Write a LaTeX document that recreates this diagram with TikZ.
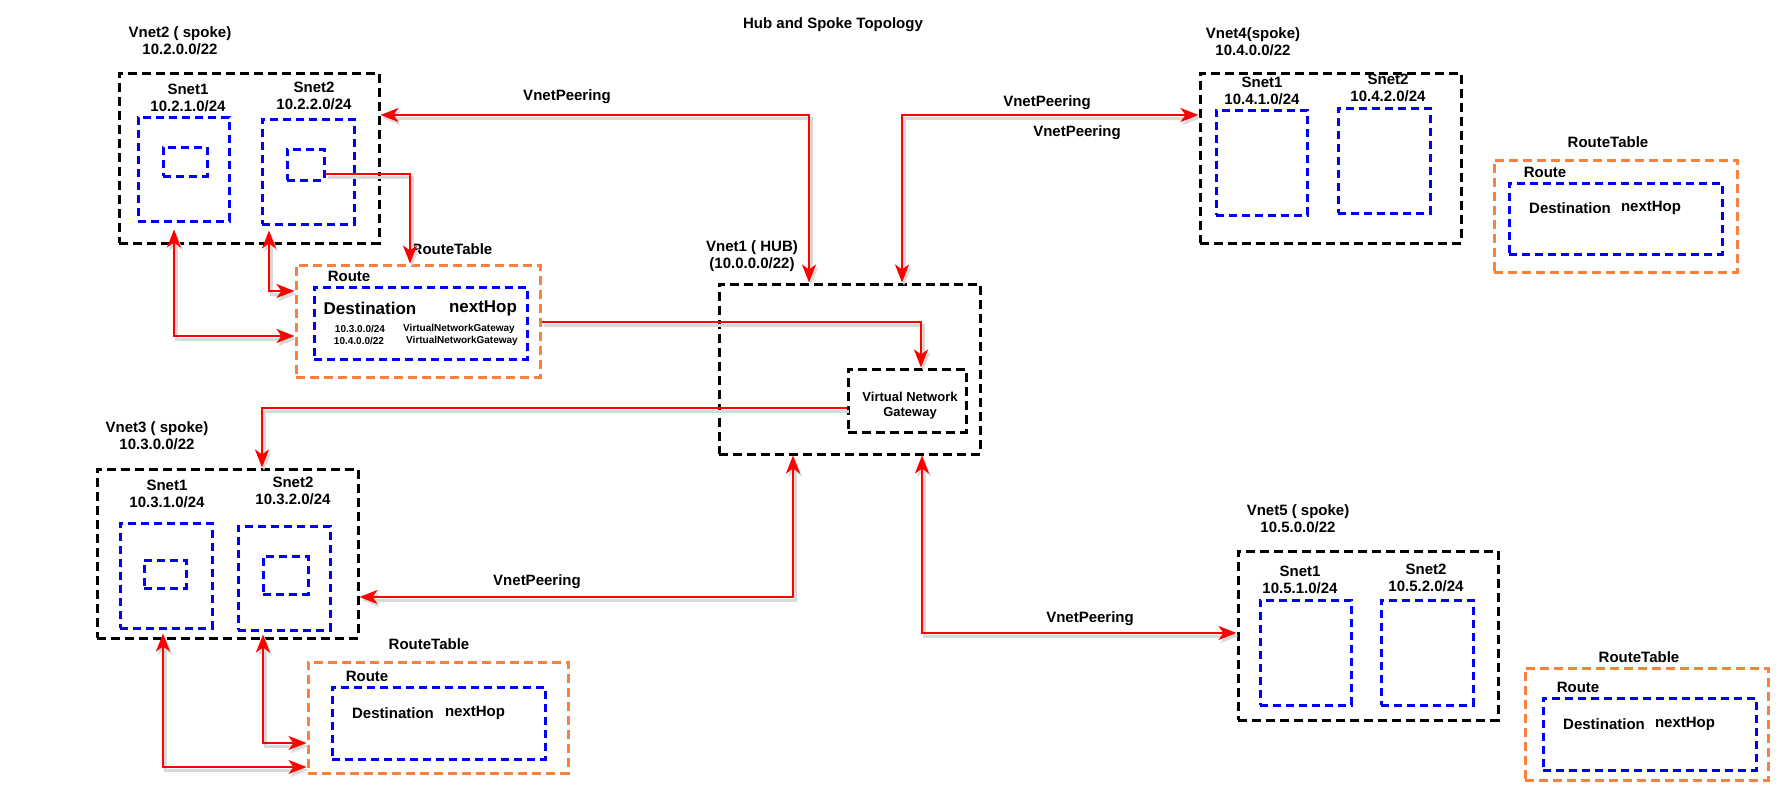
\documentclass[tikz,border=0pt]{standalone}
\usepackage{fontspec}
\setmainfont{Liberation Sans}
\usepackage{xcolor}
\definecolor{rtorange}{RGB}{250,128,64}
\newcommand{\boxnode}[6]{
\node[#2, minimum width={(#5-#3)*1pt}, minimum height={(#6-#4)*1pt}] (#1) at ({(#3+#5)/2},{(#4+#6)/2}) {};
}
\newcommand{\txtnode}[4]{
\node[txt] (#1) at (#2,#3) {#4};
}
\usetikzlibrary{arrows.meta}

\begin{document}
\begin{tikzpicture}[x=1pt, y=-1pt,
  >={Stealth[length=18pt,width=14pt,inset=5pt]},
  vnet/.style={draw=black, line width=3pt, dash pattern=on 9pt off 5pt, inner sep=0pt},
  snet/.style={draw=blue, line width=3pt, dash pattern=on 8pt off 5pt, inner sep=0pt},
  rtbox/.style={draw=rtorange, line width=3pt, dash pattern=on 9pt off 5pt, inner sep=0pt},
  txt/.style={font=\fontsize{15}{17}\selectfont\bfseries, align=center, inner sep=0pt},
  big/.style={font=\fontsize{17}{19}\selectfont\bfseries, inner sep=0pt},
  small/.style={font=\fontsize{10}{12}\selectfont\bfseries, inner sep=0pt},
  gwtxt/.style={font=\fontsize{13}{15}\selectfont\bfseries, align=center, inner sep=0pt},
  shade/.style={preaction={draw=black!15, line width=3pt, transform canvas={shift={(2pt,-3pt)}}}},
  peer/.style={shade, draw=red, line width=2.4pt, ->},
  peer2/.style={shade, draw=red, line width=2.4pt, <->}]

\useasboundingbox (0,0) rectangle (1785,801);

\txtnode{title}{833}{25}{Hub and Spoke Topology}

% Vnet2
\txtnode{v2lbl}{180}{41}{Vnet2 ( spoke)\\10.2.0.0/22}
\boxnode{v2}{vnet}{119}{73}{379}{243}
\txtnode{v2s1lbl}{188}{98}{Snet1\\10.2.1.0/24}
\boxnode{v2s1}{snet}{138}{117}{229}{221}
\boxnode{v2s1i}{snet}{163}{147}{207}{176}
\txtnode{v2s2lbl}{314}{96}{Snet2\\10.2.2.0/24}
\boxnode{v2s2}{snet}{262}{119}{354}{224}
\boxnode{v2s2i}{snet}{287}{149}{324}{180}
\txtnode{rt2lbl}{452}{249}{RouteTable}
\boxnode{rt2}{rtbox}{296}{265}{540}{377}
\txtnode{rt2route}{349}{276}{Route}
\boxnode{rt2r}{snet}{314}{287}{527}{359}
\node[big] (rt2dst) at (370,308) {Destination};
\node[big] (rt2hop) at (483,308) {nextHop};
\node[small] (rt2a) at (360,329) {10.3.0.0/24};
\node[small] (rt2b) at (459,329) {VirtualNetworkGateway};
\node[small] (rt2c) at (359,341) {10.4.0.0/22};
\node[small] (rt2d) at (462,341) {VirtualNetworkGateway};

% Vnet1
\txtnode{hublbl}{752}{256}{Vnet1 ( HUB)\\(10.0.0.0/22)}
\boxnode{hub}{vnet}{719}{284}{980}{454}
\boxnode{gw}{vnet}{848}{369}{966}{432}
\node[gwtxt] (gwlbl) at (910,406) {Virtual Network\\Gateway};

% Vnet3
\txtnode{v3lbl}{157}{436}{Vnet3 ( spoke)\\10.3.0.0/22}
\boxnode{v3}{vnet}{97}{469}{358}{638}
\txtnode{v3s1lbl}{167}{494}{Snet1\\10.3.1.0/24}
\boxnode{v3s1}{snet}{120}{523}{212}{628}
\boxnode{v3s1i}{snet}{144}{560}{186}{588}
\txtnode{v3s2lbl}{293}{491}{Snet2\\10.3.2.0/24}
\boxnode{v3s2}{snet}{238}{526}{330}{630}
\boxnode{v3s2i}{snet}{263}{556}{308}{594}
\txtnode{rt3lbl}{429}{644}{RouteTable}
\boxnode{rt3}{rtbox}{308}{662}{568}{773}
\txtnode{rt3route}{367}{676}{Route}
\boxnode{rt3r}{snet}{332}{687}{545}{759}
\txtnode{rt3dst}{393}{713}{Destination}
\txtnode{rt3hop}{475}{713}{nextHop}

% Vnet4
\txtnode{v4lbl}{1253}{42}{Vnet4(spoke)\\10.4.0.0/22}
\boxnode{v4}{vnet}{1200}{73}{1461}{243}
\txtnode{v4s1lbl}{1262}{91}{Snet1\\10.4.1.0/24}
\boxnode{v4s1}{snet}{1216}{110}{1307}{215}
\txtnode{v4s2lbl}{1388}{88}{Snet2\\10.4.2.0/24}
\boxnode{v4s2}{snet}{1338}{108}{1430}{213}
\txtnode{rt4lbl}{1608}{142}{RouteTable}
\boxnode{rt4}{rtbox}{1494}{160}{1737}{272}
\txtnode{rt4route}{1545}{172}{Route}
\boxnode{rt4r}{snet}{1509}{183}{1722}{254}
\txtnode{rt4dst}{1570}{208}{Destination}
\txtnode{rt4hop}{1651}{208}{nextHop}

% Vnet5
\txtnode{v5lbl}{1298}{519}{Vnet5 ( spoke)\\10.5.0.0/22}
\boxnode{v5}{vnet}{1238}{551}{1498}{720}
\txtnode{v5s1lbl}{1300}{580}{Snet1\\10.5.1.0/24}
\boxnode{v5s1}{snet}{1260}{600}{1351}{705}
\txtnode{v5s2lbl}{1426}{578}{Snet2\\10.5.2.0/24}
\boxnode{v5s2}{snet}{1381}{600}{1473}{705}
\txtnode{rt5lbl}{1639}{657}{RouteTable}
\boxnode{rt5}{rtbox}{1525}{668}{1768}{780}
\txtnode{rt5route}{1578}{687}{Route}
\boxnode{rt5r}{snet}{1543}{698}{1756}{770}
\txtnode{rt5dst}{1604}{724}{Destination}
\txtnode{rt5hop}{1685}{724}{nextHop}

% peerings
\txtnode{pl2}{567}{97}{VnetPeering}
\txtnode{pl4a}{1047}{103}{VnetPeering}
\txtnode{pl4b}{1077}{133}{VnetPeering}
\txtnode{pl3}{537}{582}{VnetPeering}
\txtnode{pl5}{1090}{619}{VnetPeering}

\coordinate (p2) at (809,115);
\draw[peer2] (v2.east |- p2) -- (p2) -- (hub.north -| p2);
\coordinate (p4) at (902,115);
\draw[peer2] (hub.north -| p4) -- (p4) -- (v4.west |- p4);
\coordinate (p3) at (793,597);
\draw[peer2] (hub.south -| p3) -- (p3) -- (v3.east |- p3);
\coordinate (p5) at (922,633);
\draw[peer2] (hub.south -| p5) -- (p5) -- (v5.west |- p5);

\coordinate (g3) at (262,408);
\draw[peer] (gw.west |- g3) -- (g3) -- (v3.north -| g3);
\coordinate (g2) at (921,322);
\draw[peer] (rt2.east |- g2) -- (g2) -- (gw.north -| g2);
\coordinate (r2) at (410,174);
\draw[peer] (v2s2i.east |- r2) -- (r2) -- (rt2.north -| r2);

\coordinate (a21) at (174,336);
\draw[peer2, shorten <=7pt] (v2s1.south -| a21) -- (a21) -- (rt2.west |- a21);
\coordinate (a22) at (269,291);
\draw[peer2, shorten <=5pt] (v2s2.south -| a22) -- (a22) -- (rt2.west |- a22);
\coordinate (a31) at (163,767);
\draw[peer2, shorten <=4pt] (v3s1.south -| a31) -- (a31) -- (rt3.west |- a31);
\coordinate (a32) at (263,743);
\draw[peer2, shorten <=3pt] (v3s2.south -| a32) -- (a32) -- (rt3.west |- a32);

\end{tikzpicture}
\end{document}
